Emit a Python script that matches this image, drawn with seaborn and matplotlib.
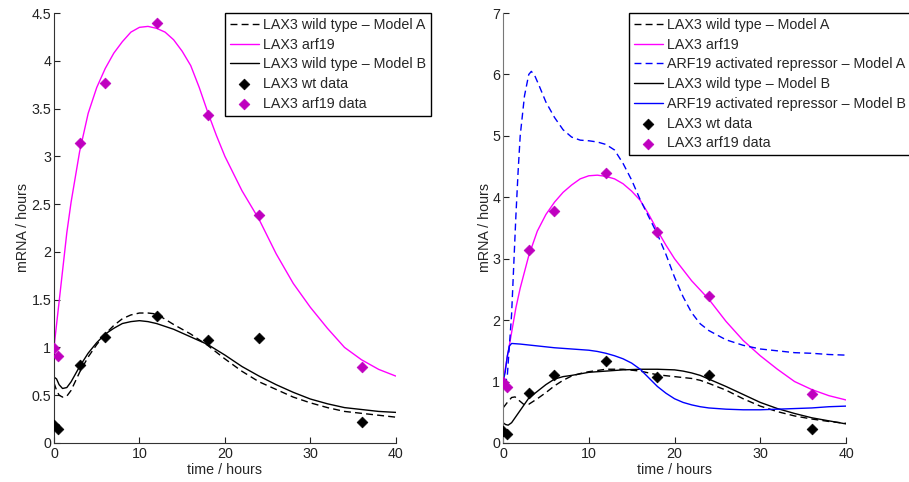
import numpy as np
import pandas as pd
import matplotlib
matplotlib.use("Agg")
import matplotlib.pyplot as plt
import seaborn as sns

sns.set_style("ticks")
plt.rcParams['font.family'] = ['Liberation Sans', 'DejaVu Sans']
plt.rcParams['font.size'] = 10.3

# measured data (same in both panels)
data_t = [0, 0.5, 3, 6, 12, 18, 24, 36]
wt_data = [0.19, 0.15, 0.82, 1.11, 1.33, 1.08, 1.10, 0.22]
arf19_data = [0.99, 0.91, 3.14, 3.77, 4.40, 3.43, 2.39, 0.79]

# LAX3 arf19 model curve (both panels)
arf19_t = [0, 0.25, 0.5, 0.75, 1, 1.5, 2, 3, 4, 5, 6, 7, 8, 9, 10, 11, 12, 13, 14, 15,
           16, 17, 18, 19, 20, 22, 24, 26, 28, 30, 32, 34, 36, 38, 40]
arf19_fit = [1.0, 1.2, 1.4, 1.6, 1.8, 2.2, 2.52, 3.05, 3.45, 3.72, 3.92, 4.08, 4.2, 4.3, 4.35,
             4.36, 4.34, 4.3, 4.22, 4.1, 3.95, 3.72, 3.46, 3.22, 3.0, 2.64, 2.34, 1.98, 1.67,
             1.42, 1.2, 1.0, 0.87, 0.77, 0.70]

# left panel: wild type models
left_t = [0, 0.3, 0.6, 1.0, 1.5, 2, 3, 4, 5, 6, 7, 8, 9, 10, 11, 12, 14, 16, 18, 20,
          22, 24, 26, 28, 30, 32, 34, 36, 38, 40]
left_wt_a = [0.63, 0.55, 0.50, 0.48, 0.49, 0.55, 0.74, 0.90, 1.03, 1.14, 1.23, 1.30, 1.34,
             1.36, 1.36, 1.35, 1.24, 1.14, 1.02, 0.88, 0.75, 0.64, 0.56, 0.48, 0.42, 0.37,
             0.33, 0.31, 0.29, 0.27]
left_wt_b = [0.69, 0.67, 0.61, 0.57, 0.58, 0.64, 0.80, 0.94, 1.05, 1.14, 1.20, 1.25, 1.27,
             1.28, 1.27, 1.25, 1.19, 1.11, 1.03, 0.92, 0.80, 0.70, 0.61, 0.53, 0.46, 0.41,
             0.37, 0.35, 0.33, 0.32]

# right panel: wild type models
wt_a_t = [0, 0.5, 1.0, 1.4, 1.8, 2.4, 3, 4, 5, 6, 7, 8, 9, 10, 12, 14, 16, 18, 20, 22,
          23, 24, 26, 28, 30, 32, 34, 36, 38, 40]
right_wt_a = [0.57, 0.66, 0.74, 0.75, 0.70, 0.63, 0.63, 0.72, 0.82, 0.93, 1.02, 1.09, 1.13,
              1.16, 1.20, 1.20, 1.17, 1.11, 1.08, 1.05, 1.02, 0.97, 0.86, 0.72, 0.60, 0.51,
              0.44, 0.39, 0.35, 0.32]
wt_b_t = [0, 0.3, 0.6, 1, 1.5, 2, 3, 4, 5, 6, 7, 8, 10, 12, 14, 16, 18, 20, 21, 22, 23,
          24, 26, 28, 30, 32, 34, 36, 38, 40]
right_wt_b = [0.33, 0.30, 0.29, 0.33, 0.43, 0.53, 0.73, 0.84, 0.95, 1.04, 1.08, 1.10, 1.15,
              1.17, 1.19, 1.20, 1.20, 1.19, 1.17, 1.14, 1.10, 1.04, 0.92, 0.79, 0.66, 0.56,
              0.48, 0.41, 0.36, 0.31]

# right panel: ARF19 activated repressor
rep_a_t = [0, 0.3, 0.5, 0.75, 1.0, 1.25, 1.5, 1.75, 2.0, 2.5, 3.0, 3.3, 3.7, 4.2, 5, 6, 7, 8,
           9, 10, 11, 12, 13, 14, 15, 16, 17, 18, 19, 20, 21, 22, 23, 24, 26, 28, 30, 32,
           34, 36, 38, 40]
rep_a = [1.0, 0.98, 1.1, 1.6, 2.1, 2.9, 3.7, 4.4, 5.0, 5.65, 6.0, 6.05, 5.98, 5.82, 5.55,
         5.3, 5.1, 4.98, 4.93, 4.92, 4.9, 4.86, 4.77, 4.55, 4.28, 3.96, 3.68, 3.4, 3.07,
         2.7, 2.38, 2.12, 1.94, 1.83, 1.68, 1.59, 1.53, 1.5, 1.47, 1.46, 1.44, 1.43]
rep_b_t = [0, 0.25, 0.5, 0.75, 1.0, 2, 4, 6, 8, 10, 11, 12, 13, 14, 15, 16, 17, 18, 19, 20,
           21, 22, 23, 24, 26, 28, 30, 32, 34, 36, 38, 40]
rep_b = [1.0, 1.15, 1.42, 1.58, 1.62, 1.61, 1.58, 1.55, 1.53, 1.51, 1.49, 1.46, 1.42, 1.37,
         1.3, 1.2, 1.06, 0.92, 0.81, 0.72, 0.66, 0.62, 0.59, 0.57, 0.55, 0.54, 0.54, 0.55,
         0.56, 0.57, 0.59, 0.60]

magenta = '#ff00ff'
dmag = '#bf00bf'
dash = (0, (5, 3))

fig = plt.figure(figsize=(9.09, 4.82), dpi=100)
ax1 = fig.add_axes([0.0594, 0.081, 0.376, 0.892])
ax2 = fig.add_axes([0.5534, 0.081, 0.3773, 0.892])


def line(ax, t, y, **kw):
    sns.lineplot(x=t, y=y, ax=ax, sort=False, estimator=None, lw=1.0, **kw)


def points(ax, y, c, label):
    sns.scatterplot(x=data_t, y=y, ax=ax, marker='D', s=30, color=c,
                    edgecolor=c, linewidth=0.5, label=label, zorder=5)


# left panel
line(ax1, left_t, left_wt_a, color='k', linestyle=dash, label='LAX3 wild type \u2013 Model A')
line(ax1, arf19_t, arf19_fit, color=magenta, label='LAX3 arf19')
line(ax1, left_t, left_wt_b, color='k', label='LAX3 wild type \u2013 Model B')
points(ax1, wt_data, 'k', 'LAX3 wt data')
points(ax1, arf19_data, dmag, 'LAX3 arf19 data')
ax1.set_ylim(0, 4.5)
ax1.set_yticks(np.arange(0, 4.51, 0.5))
ax1.set_yticklabels(['0', '0.5', '1', '1.5', '2', '2.5', '3', '3.5', '4', '4.5'])

# right panel
line(ax2, wt_a_t, right_wt_a, color='k', linestyle=dash, label='LAX3 wild type \u2013 Model A')
line(ax2, arf19_t, arf19_fit, color=magenta, label='LAX3 arf19')
line(ax2, rep_a_t, rep_a, color='#0000ff', linestyle=dash,
     label='ARF19 activated repressor \u2013 Model A')
line(ax2, wt_b_t, right_wt_b, color='k', label='LAX3 wild type \u2013 Model B')
line(ax2, rep_b_t, rep_b, color='#0000ff', label='ARF19 activated repressor \u2013 Model B')
points(ax2, wt_data, 'k', 'LAX3 wt data')
points(ax2, arf19_data, dmag, 'LAX3 arf19 data')
ax2.set_ylim(0, 7)
ax2.set_yticks(range(0, 8))

for ax, x0, lp in ((ax1, 0.5, 1.0), (ax2, 0.367, 0.0)):
    ax.set_xlim(0, 40)
    ax.set_xticks([0, 10, 20, 30, 40])
    ax.set_xlabel('time / hours', labelpad=1)
    ax.set_ylabel('mRNA / hours', labelpad=lp)
    ax.tick_params(direction='in', length=4, width=0.8, labelsize=10.3, pad=3, colors='#222222')
    ax.tick_params(axis='y', pad=2)
    sns.despine(ax=ax)
    for s in ('left', 'bottom'):
        ax.spines[s].set_color('#333333')
        ax.spines[s].set_linewidth(0.8)
    leg = ax.legend(loc='upper left', bbox_to_anchor=(x0, 1.0), fontsize=10.3,
                    frameon=True, fancybox=False, edgecolor='k', framealpha=1,
                    borderaxespad=0, labelspacing=0.4, handlelength=2.0,
                    handletextpad=0.3, borderpad=0.35, scatterpoints=1)
    leg.get_frame().set_linewidth(1.0)
    leg.set_clip_on(False)

ax2.spines['left'].set_color('#777777')

fig.savefig('out.png', dpi=100)
